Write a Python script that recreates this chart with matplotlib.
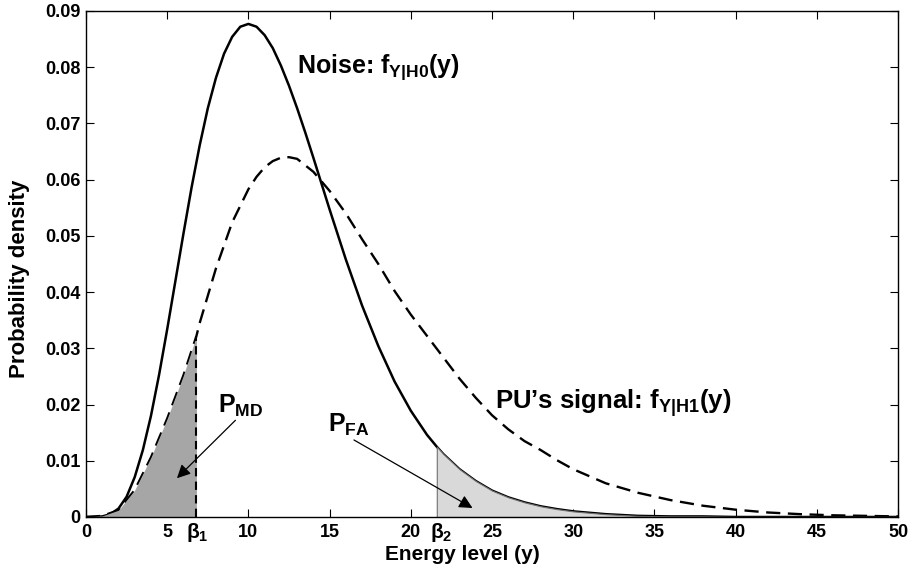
import numpy as np
import matplotlib
matplotlib.use("Agg")
from matplotlib import pyplot as plt

plt.rcParams['font.family'] = ['Liberation Sans', 'DejaVu Sans']
plt.rcParams['font.weight'] = 'bold'
plt.rcParams['mathtext.fontset'] = 'custom'
plt.rcParams['mathtext.rm'] = 'Liberation Sans:bold'
plt.rcParams['mathtext.it'] = 'Liberation Sans:bold'
plt.rcParams['mathtext.bf'] = 'Liberation Sans:bold'

### data ###
beta1 = 6.8
beta2 = 21.6

noise_x = [0, 0.5, 1, 1.5, 2, 2.5, 3, 3.5, 4, 4.5, 5, 5.5, 6, 6.5, 7, 7.5, 8, 8.5, 9, 9.5,
           10, 10.5, 11, 11.5, 12, 12.5, 13, 13.5, 14, 15, 16, 17, 18, 19, 20, 21, 21.6, 22,
           23, 24, 25, 26, 27, 28, 29, 30, 32, 34, 36, 38, 40, 45, 50]
noise_y = [0, 0.0000, 0.0001, 0.0005, 0.0015, 0.0036, 0.0071, 0.0119, 0.0180, 0.0253,
           0.0334, 0.0419, 0.0504, 0.0586, 0.0661, 0.0727, 0.0781, 0.0824, 0.0854, 0.0872,
           0.0877, 0.0872, 0.0857, 0.0834, 0.0803, 0.0767, 0.0727, 0.0684, 0.0639, 0.0547,
           0.0458, 0.0376, 0.0304, 0.0241, 0.0189, 0.0146, 0.0125, 0.0112,
           0.0085, 0.0064, 0.0047, 0.0035, 0.0026, 0.0019, 0.0014, 0.0010, 0.0005, 0.0002,
           0.0001, 0.0001, 0.0000, 0.0000, 0.0000]

signal_x = [0, 1, 2, 3, 4, 5, 6, 6.8, 7, 8, 9, 10, 10.5, 11, 11.5, 12, 12.5, 13, 14, 15,
            16, 17, 18, 19, 20, 21, 22, 23, 24, 25, 26, 27, 28, 29, 30, 32, 34, 36, 38,
            40, 42, 44, 46, 48, 50]
signal_y = [0, 0.0002, 0.0012, 0.0048, 0.0106, 0.0175, 0.0252, 0.0322, 0.0345, 0.0442,
            0.0524, 0.0583, 0.0605, 0.0622, 0.0633, 0.0639, 0.0640, 0.0637, 0.0614, 0.0580,
            0.0540, 0.0494, 0.0450, 0.0402, 0.0360, 0.0322, 0.0284, 0.0246, 0.0212, 0.0181,
            0.0156, 0.0135, 0.0119, 0.0101, 0.0085, 0.0060, 0.0043, 0.0030, 0.0020,
            0.0013, 0.0008, 0.0005, 0.0003, 0.0002, 0.0001]

x_ticks = [0, 5, 10, 15, 20, 25, 30, 35, 40, 45, 50]
y_ticks = [0, 0.01, 0.02, 0.03, 0.04, 0.05, 0.06, 0.07, 0.08, 0.09]
y_ticklabels = ['0', '0.01', '0.02', '0.03', '0.04', '0.05', '0.06', '0.07', '0.08', '0.09']

noise_x = np.array(noise_x)
noise_y = np.array(noise_y)
signal_x = np.array(signal_x)
signal_y = np.array(signal_y)

fig = plt.figure(figsize=(9.14, 5.69), dpi=100)
ax = fig.add_axes([0.0941, 0.0914, 0.8884, 0.8893])

dash = (0, (6, 3.2))

ax.plot(noise_x, noise_y, color='k', lw=1.8, zorder=3)
ax.plot(signal_x, signal_y, color='k', lw=1.7, linestyle=dash, zorder=3)

# P_MD area under the signal pdf, left of beta1
m = signal_x <= beta1
ax.fill_between(signal_x[m], 0, signal_y[m], color='#a6a6a6', lw=0, zorder=4)
ax.plot([beta1, beta1], [0, signal_y[m][-1]], color='k', lw=1.5, linestyle=(0, (4, 2.5)), zorder=5)

# P_FA area under the noise pdf, right of beta2
m2 = noise_x >= beta2
ax.fill_between(noise_x[m2], 0, noise_y[m2], facecolor='#d9d9d9', edgecolor='#707070',
                lw=0.8, zorder=4)

ax.set_xlim(0, 50)
ax.set_ylim(0, 0.09)
ax.set_xticks(x_ticks)
ax.set_yticks(y_ticks)
ax.set_yticklabels(y_ticklabels)
ax.set_axisbelow(True)
ax.tick_params(direction='in', length=6, width=0.8, top=True, right=True, labelsize=13)
ax.tick_params(axis='x', pad=5)
ax.tick_params(axis='y', pad=4)
for s in ax.spines.values():
    s.set_linewidth(1.0)
    s.set_zorder(6)

ax.set_xlabel('Energy level (y)', fontsize=15, fontweight='bold')
ax.set_ylabel('Probability density', fontsize=16, fontweight='bold')
ax.xaxis.set_label_coords(0.464, -0.055)
ax.yaxis.set_label_coords(-0.069, 0.47)

ax.text(beta1 + 0.05, -0.0038, r'$\beta_1$', fontsize=15, ha='center', va='baseline')
ax.text(beta2 + 0.25, -0.0038, r'$\beta_2$', fontsize=15, ha='center', va='baseline')

ax.text(13.0, 0.080, r'Noise: f$_{\mathrm{Y|H0}}$(y)', fontsize=18, ha='left', va='center')
ax.text(25.2, 0.0203, r'PU’s signal: f$_{\mathrm{Y|H1}}$(y)', fontsize=18.5, ha='left', va='center')
ax.text(8.1, 0.0198, r'P$_{\mathrm{MD}}$', fontsize=18, ha='left', va='center')
ax.text(14.9, 0.0164, r'P$_{\mathrm{FA}}$', fontsize=18, ha='left', va='center')

arrow = dict(arrowstyle='-|>', color='k', lw=0.9, mutation_scale=20, shrinkA=0, shrinkB=0)
ax.annotate('', xy=(5.6, 0.0069), xytext=(9.2, 0.0172), arrowprops=arrow, zorder=7)
ax.annotate('', xy=(23.8, 0.0016), xytext=(16.5, 0.0137), arrowprops=arrow, zorder=7)

fig.savefig('out.png', dpi=100)
